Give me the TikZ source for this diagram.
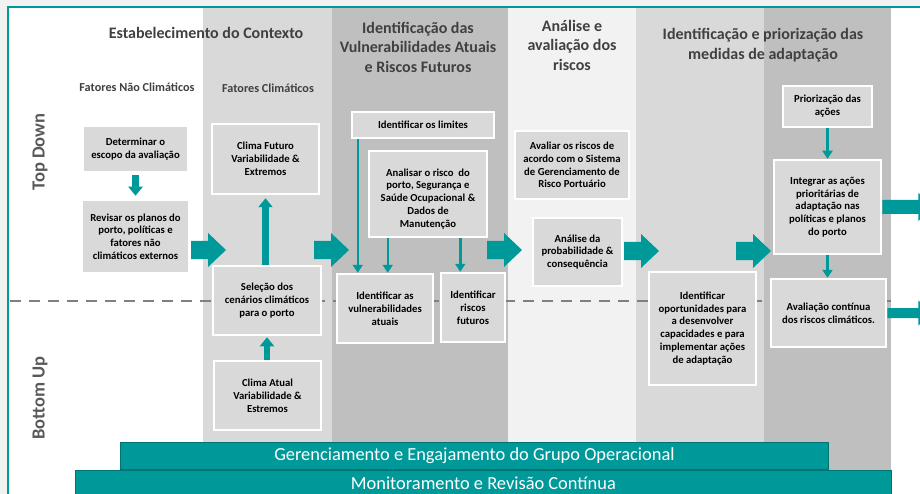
\documentclass[tikz,border=0pt]{standalone}
\usepackage{fontspec}
\setmainfont{Carlito}
\usetikzlibrary{arrows.meta,calc}
\definecolor{teal1}{RGB}{0,153,153}
\definecolor{colA}{RGB}{217,217,217}
\definecolor{colB}{RGB}{191,191,191}
\definecolor{colC}{RGB}{242,242,242}
\definecolor{boxfill}{RGB}{217,217,217}
\definecolor{titlegray}{RGB}{64,64,64}
\definecolor{sidegray}{RGB}{89,89,89}
\definecolor{dashgray}{RGB}{128,128,128}
\begin{document}
\begin{tikzpicture}[x=1pt,y=-1pt,
 box/.style={draw=white, line width=2.5pt, fill=boxfill, align=center, text=black,
   font=\bfseries\fontsize{10.7}{12.8}\selectfont, inner sep=1pt},
 ttl/.style={text=titlegray, font=\bfseries\fontsize{16}{19.5}\selectfont, align=center},
 sub/.style={text=titlegray, font=\bfseries\fontsize{12.2}{14}\selectfont},
 side/.style={text=sidegray, font=\bfseries\fontsize{18.5}{20}\selectfont, rotate=90},
 bar/.style={fill=teal1, draw=teal1!75!black, line width=0.8pt, text=white,
   font=\fontsize{18.4}{20}\selectfont, inner sep=0pt, anchor=north west},
 tarrow/.style={teal1, line width=2.5pt, -{Triangle[width=10pt,length=8pt]}},
 barrow/.style={teal1, line width=6.5pt, -{Triangle[width=14pt,length=9pt]}},
 bigarrow/.pic={\fill[teal1] (0,-9) -- (17,-9) -- (17,-17) -- (35,0) -- (17,17) -- (17,9) -- (0,9) -- cycle;},
]
\useasboundingbox (0,0) rectangle (920,494);
\clip (0,0) rectangle (920,494);
% background and frame
\fill[colC] (0,0) rectangle (920,494);
\fill[white] (8,7) rectangle (920,494);
\fill[colA] (203,8) rectangle (332,494);
\fill[colB] (332,8) rectangle (508,494);
\fill[colC] (508,8) rectangle (636,494);
\fill[colA] (636,8) rectangle (764,494);
\fill[colB] (764,8) rectangle (891,494);
\draw[teal1, line width=2pt] (8,494) -- (8,7) -- (920,7);
% dashed divider
\draw[dashgray, line width=2.5pt, dash pattern=on 11pt off 8pt] (10,301) -- (891,301);
% bottom bars
\node[bar, minimum width=708, minimum height=27] (gbar) at (120,442) {Gerenciamento e Engajamento do Grupo Operacional};
\node[bar, minimum width=816, minimum height=25] (mbar) at (75,470) {Monitoramento e Revisão Contínua};
% titles
\node[ttl] (t1) at (206,33) {Estabelecimento do Contexto};
\node[ttl] (t2) at (418,47) {Identificação das\\Vulnerabilidades Atuais\\e Riscos Futuros};
\node[ttl] (t3) at (572,45) {Análise e\\avaliação dos\\riscos};
\node[ttl] (t4) at (763,45) {Identificação e priorização das\\medidas de adaptação};
\node[sub] (s1) at (137,87) {Fatores Não Climáticos};
\node[sub] (s2) at (268,88) {Fatores Climáticos};
\node[side] (td) at (40,152) {Top Down};
\node[side] (bu) at (40,398) {Bottom Up};
% boxes
\node[box, minimum width=105, minimum height=46] (det) at (135.5,149) {Determinar o\\escopo da avaliação};
\node[box, minimum width=107, minimum height=73] (rev) at (135.5,236.5) {Revisar os planos do\\porto, políticas e\\fatores não\\climáticos externos};
\node[box, minimum width=107, minimum height=70] (cfut) at (265.5,159) {Clima Futuro\\Variabilidade \&\\Extremos};
\node[box, minimum width=108, minimum height=69] (sel) at (267,300.5) {Seleção dos\\cenários climáticos\\para o porto};
\node[box, minimum width=107, minimum height=69] (catu) at (267.5,395.5) {Clima Atual\\Variabilidade \&\\Estremos};
\node[box, minimum width=142, minimum height=26] (lim) at (423,125) {Identificar os limites};
\node[box, minimum width=118, minimum height=86] (ana) at (428,194) {\rule{0pt}{17pt}Analisar o risco\ \ do\\porto, Segurança e\\Saúde Ocupacional \&\\Dados de\\Manutenção};
\node[box, minimum width=96, minimum height=69] (vul) at (385,308.5) {Identificar as\\vulnerabilidades\\atuais};
\node[box, minimum width=64, minimum height=69] (fut) at (473,307.5) {Identificar\\riscos\\futuros};
\node[box, minimum width=114, minimum height=68] (aval) at (572,165) {Avaliar os riscos de\\acordo com o Sistema\\de Gerenciamento de\\Risco Portuário};
\node[box, minimum width=89, minimum height=68] (prob) at (577.5,252) {Análise da\\probabilidade \&\\consequência};
\node[box, minimum width=107, minimum height=113] (opor) at (702.5,328.5) {Identificar\\oportunidades para\\a desenvolver\\capacidades e para\\implementar ações\\de adaptação};
\node[box, minimum width=89, minimum height=41] (prio) at (827.5,106.5) {Priorização das\\ações};
\node[box, minimum width=107, minimum height=94] (integ) at (827.5,207) {Integrar as ações\\prioritárias de\\adaptação nas\\políticas e planos\\do porto};
\node[box, minimum width=115, minimum height=68] (acont) at (828.5,313) {Avaliação contínua\\dos riscos climáticos.};
% thick vertical arrows
\draw[barrow, shorten <=2pt, shorten >=3pt] (det.south) -- (rev.north);
\draw[barrow, shorten >=3pt] (sel.north -| cfut.south) -- (cfut.south);
\draw[barrow, shorten >=1pt] (catu.north -| sel.south) -- (sel.south);
% thin arrows
\coordinate (l1) at ($(lim.south west)+(7,0)$);
\coordinate (a1) at ($(ana.south west)+(20,0)$);
\coordinate (a2) at ($(ana.south east)+(-28,0)$);
\draw[tarrow] (l1) -- (l1 |- vul.north);
\draw[tarrow] (a1) -- (a1 |- vul.north);
\draw[tarrow] (a2) -- (a2 |- fut.north);
\draw[tarrow] (prio.south) -- (prio.south |- integ.north);
\draw[tarrow] (integ.south) -- (integ.south |- acont.north);
% big block arrows
\pic at (191,250) {bigarrow};
\pic at (314,250) {bigarrow};
\pic at (487,250) {bigarrow};
\pic at (624,251) {bigarrow};
\pic at (736,251) {bigarrow};
% outgoing arrows on the right
\fill[teal1] ($(integ.east)+(0,-7)$) -- ++(36,0) -- ++(0,-7) -- ++(18,14) -- ++(-18,14) -- ++(0,-7) -- ++(-36,0) -- cycle;
\fill[teal1] ($(acont.east)+(0,-5)$) -- ++(31,0) -- ++(0,-7.5) -- ++(16,12.5) -- ++(-16,12.5) -- ++(0,-7.5) -- ++(-31,0) -- cycle;
\end{tikzpicture}
\end{document}
